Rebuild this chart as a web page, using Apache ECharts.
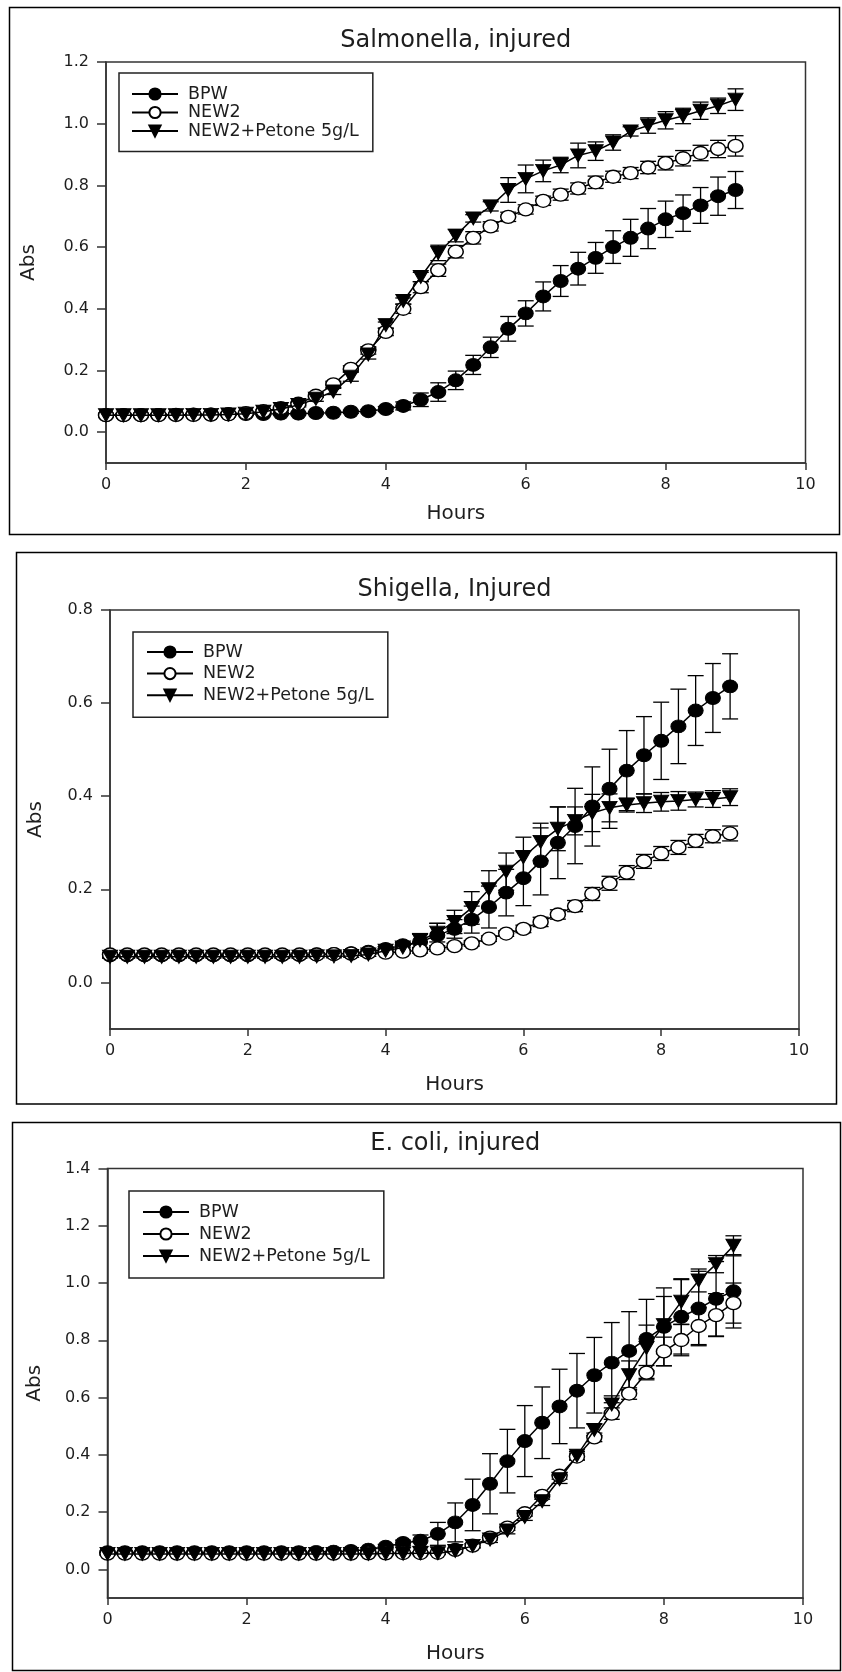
<!DOCTYPE html>
<html>
<head>
<meta charset="utf-8">
<script src="https://cdn.jsdelivr.net/npm/echarts@6/dist/echarts.min.js"></script>
<style>
  html, body { margin: 0; padding: 0; background: #ffffff; }
  #chart { width: 842px; height: 1672px; }
</style>
</head>
<body>
<div id="chart"></div>
<script>
// Sampling times (h)
const hours = [0, 0.25, 0.5, 0.75, 1, 1.25, 1.5, 1.75, 2, 2.25, 2.5, 2.75, 3, 3.25, 3.5, 3.75, 4, 4.25, 4.5, 4.75,
  5, 5.25, 5.5, 5.75, 6, 6.25, 6.5, 6.75, 7, 7.25, 7.5, 7.75, 8, 8.25, 8.5, 8.75, 9];

const seriesNames = ['BPW', 'NEW2', 'NEW2+Petone 5g/L'];
const xTicks = [0, 2, 4, 6, 8, 10];

// Salmonella, injured — mean absorbance and SD
const salBPW = [0.055, 0.055, 0.055, 0.056, 0.056, 0.057, 0.057, 0.058, 0.059, 0.059, 0.060, 0.060, 0.062, 0.063, 0.066, 0.068, 0.075, 0.085, 0.105, 0.130,
  0.168, 0.218, 0.275, 0.335, 0.385, 0.440, 0.490, 0.530, 0.565, 0.600, 0.630, 0.660, 0.690, 0.710, 0.735, 0.765, 0.785];
const salBPWsd = [0.004, 0.004, 0.004, 0.004, 0.004, 0.004, 0.004, 0.004, 0.004, 0.004, 0.004, 0.004, 0.004, 0.004, 0.005, 0.005, 0.008, 0.013, 0.022, 0.030,
  0.030, 0.031, 0.033, 0.040, 0.041, 0.047, 0.050, 0.053, 0.050, 0.053, 0.060, 0.065, 0.059, 0.059, 0.058, 0.062, 0.060];
const salNEW2 = [0.055, 0.055, 0.055, 0.055, 0.056, 0.056, 0.057, 0.058, 0.062, 0.068, 0.078, 0.092, 0.118, 0.155, 0.205, 0.265, 0.325, 0.400, 0.470, 0.525,
  0.585, 0.630, 0.667, 0.698, 0.722, 0.750, 0.770, 0.790, 0.810, 0.828, 0.840, 0.858, 0.872, 0.888, 0.905, 0.918, 0.928];
const salNEW2sd = [0.003, 0.003, 0.003, 0.003, 0.003, 0.003, 0.003, 0.003, 0.005, 0.005, 0.005, 0.005, 0.005, 0.010, 0.010, 0.012, 0.012, 0.015, 0.018, 0.020,
  0.020, 0.020, 0.015, 0.015, 0.015, 0.015, 0.018, 0.018, 0.020, 0.018, 0.018, 0.020, 0.022, 0.025, 0.025, 0.028, 0.033];
const salPep = [0.055, 0.055, 0.055, 0.055, 0.055, 0.056, 0.056, 0.057, 0.060, 0.066, 0.075, 0.088, 0.108, 0.132, 0.180, 0.252, 0.347, 0.425, 0.503, 0.581,
  0.637, 0.693, 0.732, 0.785, 0.821, 0.847, 0.866, 0.897, 0.911, 0.939, 0.975, 0.994, 1.011, 1.025, 1.042, 1.058, 1.078];
const salPepSd = [0.003, 0.003, 0.003, 0.003, 0.003, 0.003, 0.003, 0.003, 0.003, 0.003, 0.005, 0.006, 0.008, 0.010, 0.015, 0.015, 0.010, 0.010, 0.015, 0.025,
  0.020, 0.012, 0.015, 0.040, 0.045, 0.035, 0.025, 0.040, 0.030, 0.025, 0.015, 0.025, 0.028, 0.025, 0.028, 0.025, 0.035];

// Shigella, Injured
const shiBPW = [0.058, 0.058, 0.058, 0.058, 0.058, 0.058, 0.058, 0.058, 0.058, 0.059, 0.059, 0.059, 0.060, 0.061, 0.063, 0.066, 0.072, 0.080, 0.087, 0.101,
  0.115, 0.135, 0.162, 0.193, 0.224, 0.260, 0.300, 0.336, 0.378, 0.416, 0.455, 0.488, 0.519, 0.550, 0.584, 0.611, 0.636];
const shiBPWsd = [0.004, 0.004, 0.004, 0.004, 0.004, 0.004, 0.004, 0.004, 0.004, 0.004, 0.004, 0.004, 0.004, 0.004, 0.004, 0.005, 0.005, 0.006, 0.017, 0.026,
  0.020, 0.029, 0.045, 0.050, 0.059, 0.072, 0.077, 0.081, 0.085, 0.085, 0.086, 0.083, 0.083, 0.080, 0.075, 0.074, 0.070];
const shiNEW2 = [0.060, 0.060, 0.060, 0.060, 0.060, 0.060, 0.060, 0.060, 0.060, 0.060, 0.060, 0.060, 0.060, 0.061, 0.062, 0.064, 0.064, 0.066, 0.069, 0.073,
  0.078, 0.084, 0.094, 0.105, 0.115, 0.130, 0.146, 0.164, 0.190, 0.213, 0.236, 0.260, 0.277, 0.290, 0.304, 0.314, 0.320];
const shiNEW2sd = [0.003, 0.003, 0.003, 0.003, 0.003, 0.003, 0.003, 0.003, 0.003, 0.003, 0.003, 0.003, 0.003, 0.003, 0.003, 0.003, 0.003, 0.004, 0.006, 0.006,
  0.006, 0.006, 0.006, 0.006, 0.008, 0.010, 0.010, 0.012, 0.014, 0.015, 0.015, 0.015, 0.015, 0.015, 0.014, 0.014, 0.016];
const shiPep = [0.055, 0.055, 0.055, 0.055, 0.055, 0.055, 0.055, 0.055, 0.055, 0.055, 0.055, 0.055, 0.056, 0.056, 0.057, 0.060, 0.068, 0.075, 0.090, 0.107,
  0.130, 0.160, 0.200, 0.238, 0.269, 0.302, 0.330, 0.347, 0.364, 0.375, 0.381, 0.385, 0.388, 0.390, 0.393, 0.394, 0.398];
const shiPepSd = [0.003, 0.003, 0.003, 0.003, 0.003, 0.003, 0.003, 0.003, 0.003, 0.003, 0.003, 0.003, 0.003, 0.003, 0.003, 0.004, 0.005, 0.005, 0.015, 0.020,
  0.025, 0.035, 0.040, 0.040, 0.043, 0.040, 0.047, 0.030, 0.040, 0.030, 0.015, 0.020, 0.020, 0.020, 0.016, 0.018, 0.018];

// E. coli, injured
const ecoBPW = [0.060, 0.060, 0.060, 0.060, 0.060, 0.060, 0.060, 0.060, 0.060, 0.060, 0.060, 0.060, 0.061, 0.062, 0.064, 0.069, 0.079, 0.092, 0.100, 0.124,
  0.164, 0.225, 0.299, 0.378, 0.448, 0.512, 0.569, 0.624, 0.678, 0.722, 0.763, 0.805, 0.847, 0.882, 0.911, 0.945, 0.971];
const ecoBPWsd = [0.004, 0.004, 0.004, 0.004, 0.004, 0.004, 0.004, 0.004, 0.004, 0.004, 0.004, 0.004, 0.004, 0.004, 0.004, 0.006, 0.008, 0.010, 0.020, 0.040,
  0.068, 0.090, 0.105, 0.111, 0.124, 0.125, 0.130, 0.130, 0.132, 0.140, 0.137, 0.138, 0.136, 0.130, 0.130, 0.130, 0.128];
const ecoNEW2 = [0.055, 0.055, 0.055, 0.055, 0.055, 0.055, 0.055, 0.055, 0.055, 0.055, 0.055, 0.055, 0.055, 0.055, 0.055, 0.056, 0.056, 0.057, 0.057, 0.058,
  0.068, 0.083, 0.111, 0.146, 0.196, 0.257, 0.327, 0.394, 0.461, 0.544, 0.614, 0.687, 0.761, 0.801, 0.850, 0.888, 0.930];
const ecoNEW2sd = [0.004, 0.004, 0.004, 0.004, 0.004, 0.004, 0.004, 0.004, 0.004, 0.004, 0.004, 0.004, 0.004, 0.004, 0.004, 0.004, 0.004, 0.004, 0.004, 0.004,
  0.005, 0.006, 0.008, 0.010, 0.010, 0.012, 0.012, 0.012, 0.015, 0.020, 0.020, 0.025, 0.050, 0.055, 0.065, 0.075, 0.070];
const ecoPep = [0.054, 0.054, 0.054, 0.054, 0.054, 0.054, 0.054, 0.054, 0.054, 0.054, 0.054, 0.054, 0.054, 0.054, 0.054, 0.054, 0.055, 0.055, 0.056, 0.056,
  0.064, 0.082, 0.104, 0.136, 0.183, 0.238, 0.315, 0.397, 0.487, 0.576, 0.678, 0.773, 0.853, 0.935, 1.009, 1.066, 1.130];
const ecoPepSd = [0.004, 0.004, 0.004, 0.004, 0.004, 0.004, 0.004, 0.004, 0.004, 0.004, 0.004, 0.004, 0.004, 0.004, 0.004, 0.004, 0.004, 0.004, 0.004, 0.004,
  0.006, 0.008, 0.010, 0.012, 0.012, 0.015, 0.015, 0.015, 0.020, 0.030, 0.050, 0.080, 0.100, 0.080, 0.040, 0.030, 0.035];

// y tick labels of each panel
const salYTicks = [0, 0.2, 0.4, 0.6, 0.8, 1.0, 1.2];
const shiYTicks = [0, 0.2, 0.4, 0.6, 0.8];
const ecoYTicks = [0, 0.2, 0.4, 0.6, 0.8, 1.0, 1.2, 1.4];

const FONT = '"DejaVu Sans", "Liberation Sans", Arial, sans-serif';
const INK = '#1e1e1e';

// Layout of the three stacked panels
const panels = [
  {
    title: 'Salmonella, injured', yMin: -0.1, yMax: 1.2, yTicks: salYTicks,
    values: [salBPW, salNEW2, salPep], sds: [salBPWsd, salNEW2sd, salPepSd],
    grid: { left: 106, top: 62, width: 699.5, height: 401 },
    titleTop: 29, yNameGap: 67, xNameGap: 41,
    legend: { left: 119, top: 73, itemGap: 0.5, padding: [12, 14, 11.5, 12] },
    frame: { x: 9.5, y: 7.5, width: 830, height: 527 }
  },
  {
    title: 'Shigella, Injured', yMin: -0.1, yMax: 0.8, yTicks: shiYTicks,
    values: [shiBPW, shiNEW2, shiPep], sds: [shiBPWsd, shiNEW2sd, shiPepSd],
    grid: { left: 110, top: 610, width: 689, height: 419 },
    titleTop: 578, yNameGap: 64, xNameGap: 46,
    legend: { left: 133, top: 632, itemGap: 3.6, padding: [11, 14, 13, 13] },
    frame: { x: 16.5, y: 552.5, width: 820, height: 551.5 }
  },
  {
    title: 'E. coli, injured', yMin: -0.1, yMax: 1.4, yTicks: ecoYTicks,
    values: [ecoBPW, ecoNEW2, ecoPep], sds: [ecoBPWsd, ecoNEW2sd, ecoPepSd],
    grid: { left: 107.5, top: 1168.5, width: 695.5, height: 429.5 },
    titleTop: 1132, yNameGap: 63, xNameGap: 46,
    legend: { left: 129, top: 1191, itemGap: 4, padding: [12, 14, 13, 13] },
    frame: { x: 12.5, y: 1122.5, width: 828, height: 548 }
  }
];

const seriesLook = [
  { symbol: 'circle', symbolRotate: 0, itemStyle: { color: '#000', borderColor: '#000', borderWidth: 1 } },
  { symbol: 'circle', symbolRotate: 0, itemStyle: { color: '#fff', borderColor: '#000', borderWidth: 1.4 } },
  { symbol: 'triangle', symbolRotate: 180, itemStyle: { color: '#000', borderColor: '#000', borderWidth: 1 } }
];

function errorBarItem(params, api) {
  const x = api.value(0);
  const top = api.coord([x, api.value(2)]);
  const bot = api.coord([x, api.value(1)]);
  const hw = 8;
  const style = { stroke: '#000', lineWidth: 1.3, fill: null };
  return {
    type: 'group',
    children: [
      { type: 'line', shape: { x1: top[0], y1: top[1], x2: bot[0], y2: bot[1] }, style: style },
      { type: 'line', shape: { x1: top[0] - hw, y1: top[1], x2: top[0] + hw, y2: top[1] }, style: style },
      { type: 'line', shape: { x1: bot[0] - hw, y1: bot[1], x2: bot[0] + hw, y2: bot[1] }, style: style }
    ]
  };
}

const axisLineStyle = { color: '#333', width: 1.5 };
const option = {
  animation: false,
  backgroundColor: '#ffffff',
  title: [], legend: [], grid: [], xAxis: [], yAxis: [], series: [],
  graphic: []
};

panels.forEach((p, i) => {
  option.title.push({
    text: p.title, left: p.grid.left + p.grid.width / 2, top: p.titleTop, textAlign: 'center', padding: 0,
    textStyle: { fontFamily: FONT, fontSize: 24, fontWeight: 'normal', color: INK }
  });
  option.grid.push(Object.assign({ show: true, borderColor: '#333', borderWidth: 1.5, backgroundColor: 'transparent' }, p.grid));
  option.xAxis.push({
    type: 'value', gridIndex: i, min: 0, max: 10, interval: 2,
    name: 'Hours', nameLocation: 'middle', nameGap: p.xNameGap,
    nameTextStyle: { fontFamily: FONT, fontSize: 20, color: INK },
    axisLine: { show: true, onZero: false, lineStyle: axisLineStyle },
    axisTick: { show: true, inside: false, length: 7, lineStyle: axisLineStyle, customValues: xTicks },
    axisLabel: { fontFamily: FONT, fontSize: 16, color: INK, margin: 14, customValues: xTicks },
    splitLine: { show: false }
  });
  option.yAxis.push({
    type: 'value', gridIndex: i, min: p.yMin, max: p.yMax,
    name: 'Abs', nameLocation: 'middle', nameGap: p.yNameGap, nameRotate: 90,
    nameTextStyle: { fontFamily: FONT, fontSize: 20, color: INK },
    axisLine: { show: true, onZero: false, lineStyle: axisLineStyle },
    axisTick: { show: true, inside: false, length: 9, lineStyle: axisLineStyle, customValues: p.yTicks },
    axisLabel: {
      fontFamily: FONT, fontSize: 16, color: INK, margin: 17, customValues: p.yTicks,
      formatter: (v) => Number(v).toFixed(1)
    },
    splitLine: { show: false }
  });
  option.legend.push({
    data: seriesNames, orient: 'vertical', left: p.legend.left, top: p.legend.top,
    itemWidth: 46, itemHeight: 14, itemGap: p.legend.itemGap, padding: p.legend.padding,
    borderColor: '#222', borderWidth: 1.5, backgroundColor: '#fff', selectedMode: false,
    textStyle: { fontFamily: FONT, fontSize: 17.5, lineHeight: 16, color: INK, padding: [0, 0, 0, 5] }
  });
  seriesNames.forEach((name, k) => {
    const vals = p.values[k];
    const sd = p.sds[k];
    option.series.push({
      name: name + ' SD', type: 'custom', xAxisIndex: i, yAxisIndex: i, z: 2,
      renderItem: errorBarItem, silent: true,
      encode: { x: 0, y: [1, 2] },
      data: hours.map((h, j) => [h, vals[j] - sd[j], vals[j] + sd[j]])
    });
  });
  seriesNames.forEach((name, k) => {
    const look = seriesLook[k];
    option.series.push({
      name: name, type: 'line', xAxisIndex: i, yAxisIndex: i, z: 3 + k,
      symbol: look.symbol, symbolRotate: look.symbolRotate, symbolSize: [15, 13], showAllSymbol: true,
      lineStyle: { color: '#000', width: 1.5 }, itemStyle: look.itemStyle,
      emphasis: { disabled: true },
      data: hours.map((h, j) => [h, p.values[k][j]])
    });
  });
  option.graphic.push({
    type: 'rect', silent: true, z: 100,
    shape: p.frame, style: { fill: null, stroke: '#000', lineWidth: 1.5 }
  });
});

const chart = echarts.init(document.getElementById('chart'), null, { renderer: 'canvas' });
chart.setOption(option);
</script>
</body>
</html>
